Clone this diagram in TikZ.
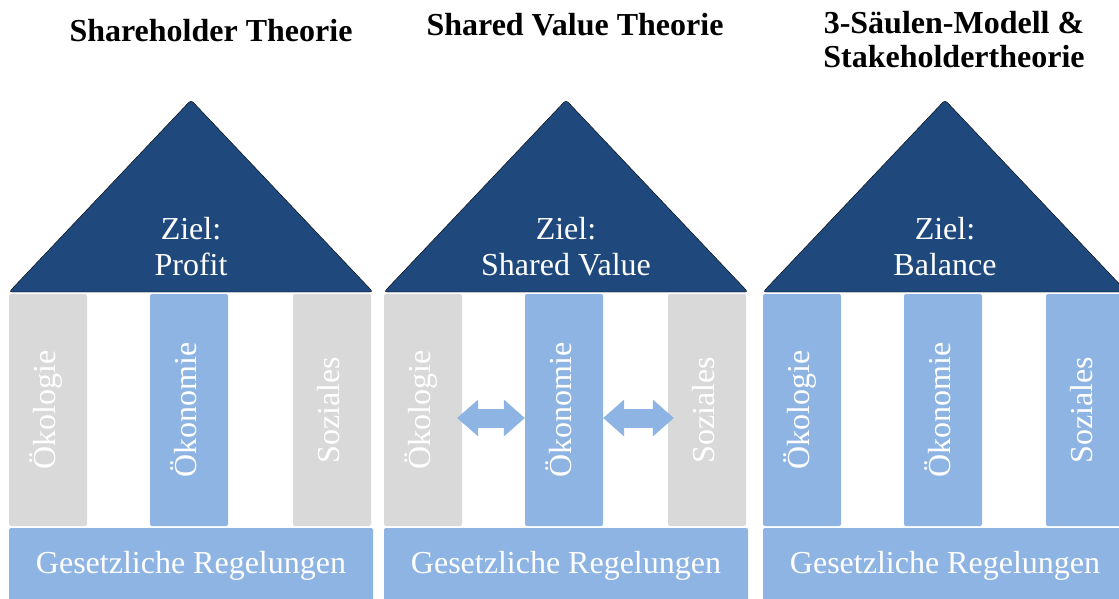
\documentclass[tikz,border=0pt]{standalone}
\usepackage{fontspec}
\setmainfont{Liberation Serif}
\newfontfamily\titelschrift{LiberationSerif-Bold.ttf}
\usepackage{xcolor}
\usetikzlibrary{arrows.meta}

\definecolor{dunkelblau}{HTML}{1F497D}
\definecolor{hellblau}{HTML}{8EB4E3}
\definecolor{hellgrau}{HTML}{D9D9D9}

\begin{document}
\begin{tikzpicture}[x=1pt, y=-1pt,
    dach/.style={fill=dunkelblau, rounded corners=3pt},
    saeule/.style={rectangle, rounded corners=2pt, minimum width=78pt, minimum height=232pt, inner sep=0pt},
    saeulentext/.style={rotate=90, text=white, inner sep=0pt, font=\fontsize{32}{36}\selectfont, text height=22pt, text depth=8pt},
    ziel/.style={text=white, align=center, inner sep=0pt, font=\fontsize{32}{36}\selectfont},
    basis/.style={fill=hellblau, rounded corners=2pt, minimum width=364pt, minimum height=76pt, inner sep=0pt, text=white, font=\fontsize{32}{36}\selectfont, text height=22pt, text depth=8pt},
    titel/.style={inner sep=0pt, align=center, font=\titelschrift\fontsize{32}{34}\selectfont},
    pfeil/.style={hellblau, line width=19pt, arrows={Triangle[width=37pt,length=21pt,line width=0pt]-Triangle[width=37pt,length=21pt,line width=0pt]}}]
    \useasboundingbox (0,0) rectangle (1119,599);
    \clip (0,0) rectangle (1119,599);

    % Shareholder
    \node[titel, anchor=base] (titel1) at (211,42) {Shareholder Theorie};
    \draw[dach] (9,292) -- (191,100) -- (373,292) -- cycle;
    \node[ziel] (ziel1) at (191,247) {Ziel:\\Profit};
    \node[saeule, fill=hellgrau] (oeko1) at (48,410) {};
    \node[saeule, fill=hellblau] (kono1) at (189,410) {};
    \node[saeule, fill=hellgrau] (sozi1) at (332,410) {};
    \node[saeulentext] (toeko1) at (oeko1) {Ökologie};
    \node[saeulentext] (tkono1) at (kono1) {Ökonomie};
    \node[saeulentext] (tsozi1) at (sozi1) {Soziales};
    \node[basis] (basis1) at (191,566) {Gesetzliche Regelungen};

    % Shared Value
    \node[titel, anchor=base] (titel2) at (575,36) {Shared Value Theorie};
    \draw[dach] (384,292) -- (566,100) -- (748,292) -- cycle;
    \node[ziel] (ziel2) at (566,247) {Ziel:\\Shared Value};
    \node[saeule, fill=hellgrau] (oeko2) at (423,410) {};
    \node[saeule, fill=hellblau] (kono2) at (564,410) {};
    \node[saeule, fill=hellgrau] (sozi2) at (707,410) {};
    \node[saeulentext] (toeko2) at (oeko2) {Ökologie};
    \node[saeulentext] (tkono2) at (kono2) {Ökonomie};
    \node[saeulentext] (tsozi2) at (sozi2) {Soziales};
    \draw[pfeil, shorten <=-5pt] ([yshift=-8pt]oeko2.east) -- ([yshift=-8pt]kono2.west);
    \draw[pfeil, shorten >=-6pt] ([yshift=-8pt]kono2.east) -- ([yshift=-8pt]sozi2.west);
    \node[basis] (basis2) at (566,566) {Gesetzliche Regelungen};

    % 3 Saeulen / Stakeholder
    \node[titel, anchor=base] (titel3) at (954,34) {3-Säulen-Modell \&};
    \node[titel, anchor=base] (titel3b) at (954,68) {Stakeholdertheorie};
    \draw[dach] (763,292) -- (945,100) -- (1127,292) -- cycle;
    \node[ziel] (ziel3) at (945,247) {Ziel:\\Balance};
    \node[saeule, fill=hellblau] (oeko3) at (802,410) {};
    \node[saeule, fill=hellblau] (kono3) at (943,410) {};
    \node[saeule, fill=hellblau] (sozi3) at (1085,410) {};
    \node[saeulentext] (toeko3) at (oeko3) {Ökologie};
    \node[saeulentext] (tkono3) at (kono3) {Ökonomie};
    \node[saeulentext] (tsozi3) at (sozi3) {Soziales};
    \node[basis] (basis3) at (945,566) {Gesetzliche Regelungen};
\end{tikzpicture}
\end{document}
